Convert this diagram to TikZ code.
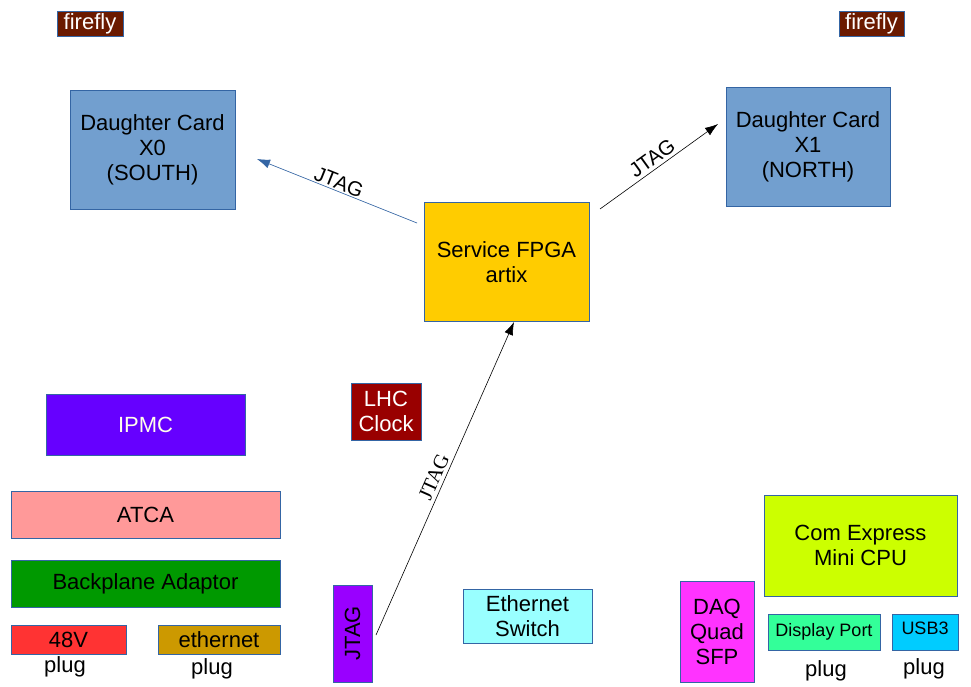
\documentclass[tikz,border=0pt]{standalone}
\usepackage{fontspec}
\setmainfont{Liberation Sans}
\newfontfamily\seriffont{Liberation Serif}
\usetikzlibrary{arrows.meta}
\definecolor{edgeblue}{HTML}{3465A4}
\definecolor{cardblue}{HTML}{729FCF}
\definecolor{fireflyc}{HTML}{6B1A00}
\definecolor{fpgac}{HTML}{FFCC00}
\definecolor{ipmcc}{HTML}{6600FF}
\definecolor{lhcc}{HTML}{990000}
\definecolor{atcac}{HTML}{FF9999}
\definecolor{backc}{HTML}{009900}
\definecolor{voltc}{HTML}{FF3333}
\definecolor{ethc}{HTML}{CC9900}
\definecolor{jtagc}{HTML}{9900FF}
\definecolor{switchc}{HTML}{99FFFF}
\definecolor{daqc}{HTML}{FF33FF}
\definecolor{comc}{HTML}{CCFF00}
\definecolor{dpc}{HTML}{33FF99}
\definecolor{usbc}{HTML}{00CCFF}
\tikzset{
  box/.style={draw=edgeblue, line width=0.9pt, inner sep=0pt, align=center,
    font=\fontsize{22}{25}\selectfont},
  smallbox/.style={box, font=\fontsize{18}{21}\selectfont},
  plugtext/.style={inner sep=0pt, font=\fontsize{22}{25}\selectfont},
  jtaglabel/.style={inner sep=0pt, font=\fontsize{20.5}{24}\selectfont},
  conn/.style={line width=0.6pt, -{Latex[length=13pt,width=9pt]}},
}
\begin{document}
\begin{tikzpicture}[x=1pt,y=-1pt]
\useasboundingbox (0,0) rectangle (971,686);
% firefly
\node[box, fill=fireflyc, text=white, minimum width=66pt, minimum height=25pt] (ff0) at (90,23.5) {firefly};
\node[box, fill=fireflyc, text=white, minimum width=65pt, minimum height=25pt] (ff1) at (871.5,23.5) {firefly};
% daughter cards
\node[box, fill=cardblue, minimum width=165pt, minimum height=119pt] (x0) at (152.5,150) {Daughter Card\\X0\\(SOUTH)};
\node[box, fill=cardblue, minimum width=164pt, minimum height=119pt] (x1) at (808,147) {Daughter Card\\X1\\(NORTH)};
% FPGA
\node[box, fill=fpgac, minimum width=165pt, minimum height=119pt] (fpga) at (506.5,262) {Service FPGA\\artix};
% left column
\node[box, fill=ipmcc, text=white!92!yellow, minimum width=199pt, minimum height=61pt] (ipmc) at (145.5,424.5) {IPMC};
\node[box, fill=lhcc, text=white, minimum width=70pt, minimum height=57pt] (lhc) at (386,411.5) {LHC\\Clock};
\node[box, fill=atcac, minimum width=269pt, minimum height=47pt] (atca) at (145.5,514.5) {ATCA};
\node[box, fill=backc, minimum width=269pt, minimum height=47pt] (back) at (145.5,583.5) {Backplane Adaptor};
\node[box, fill=voltc, minimum width=115pt, minimum height=29pt] (v48) at (68.5,639.5) {48V};
\node[box, fill=ethc, minimum width=122pt, minimum height=29pt] (eth) at (219,639.5) {ethernet};
\node[plugtext] (plug1) at (65,667) {plug};
\node[plugtext] (plug2) at (212,669) {plug};
% bottom middle
\node[box, fill=jtagc, minimum width=39pt, minimum height=97pt] (jtag) at (352.5,633.5) {};
\node[rotate=90, inner sep=0pt, font=\fontsize{22}{25}\selectfont] (jtagtxt) at (jtag.center) {JTAG};
\node[box, fill=switchc, minimum width=129pt, minimum height=54pt] (sw) at (527.5,616.5) {Ethernet\\Switch};
% bottom right
\node[box, fill=daqc, minimum width=74pt, minimum height=101pt] (daq) at (717,632) {DAQ\\Quad\\SFP};
\node[box, fill=comc, minimum width=193pt, minimum height=101pt] (com) at (860.5,545.5) {Com Express\\Mini CPU};
\node[smallbox, fill=dpc, minimum width=112pt, minimum height=36pt] (dp) at (824,632) {Display Port};
\node[smallbox, fill=usbc, minimum width=66pt, minimum height=36pt, text depth=8pt] (usb) at (925,632) {USB3};
\node[plugtext] (plug3) at (826,671) {plug};
\node[plugtext] (plug4) at (924,669) {plug};
% connectors
\coordinate (a0) at (417,223);
\coordinate (a1) at (257,159);
\draw[conn, draw=edgeblue, fill=edgeblue] (a0) -- (a1);
\node[jtaglabel, rotate=-21.8] (l0) at (339,182) {JTAG};
\coordinate (b0) at (600,209);
\coordinate (b1) at (718,124);
\draw[conn] (b0) -- (b1);
\node[jtaglabel, rotate=35.8] (l1) at (652,158) {JTAG};
\coordinate (c0) at (376,635);
\coordinate (c1) at (514,322);
\draw[conn] (c0) -- (c1);
\node[jtaglabel, rotate=66.2, font=\seriffont\fontsize{20.5}{24}\selectfont] (l2) at (434,477) {JTAG};
\end{tikzpicture}
\end{document}
